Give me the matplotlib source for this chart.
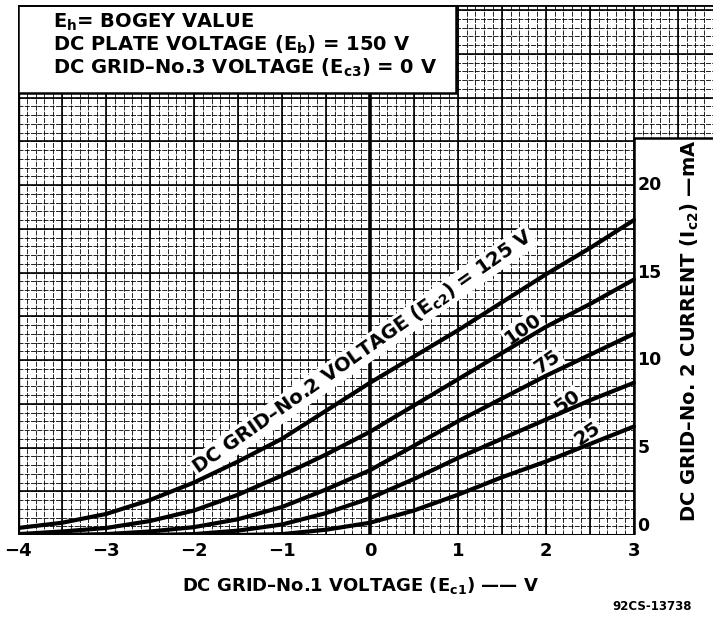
"""Screen-grid current vs grid-No.1 voltage, curves for several Ec2 values."""

import numpy as np
import matplotlib.pyplot as plt
from matplotlib.patches import Rectangle

plt.rcParams["font.family"] = ["DejaVu Sans"]
plt.rcParams["font.weight"] = "bold"
plt.rcParams["mathtext.fontset"] = "custom"
plt.rcParams["mathtext.rm"] = "DejaVu Sans:bold"
plt.rcParams["mathtext.it"] = "DejaVu Sans:bold"
plt.rcParams["mathtext.bf"] = "DejaVu Sans:bold"
plt.rcParams["mathtext.default"] = "rm"

# Ec1 (V) sample points
ec1 = [-4.0, -3.5, -3.0, -2.5, -2.0, -1.5, -1.0, -0.5, 0.0, 0.5, 1.0, 1.5, 2.0, 2.5, 3.0]

# Ic2 (mA) for each Ec2 curve
ic2_125 = [0.4, 0.7, 1.2, 2.0, 3.0, 4.2, 5.5, 7.1, 8.7, 10.2, 11.7, 13.3, 14.9, 16.4, 18.0]
ic2_100 = [0.05, 0.2, 0.4, 0.8, 1.4, 2.3, 3.4, 4.6, 5.9, 7.4, 8.9, 10.4, 11.9, 13.2, 14.6]
ic2_75 = [0.0, 0.0, 0.05, 0.2, 0.45, 0.9, 1.6, 2.6, 3.7, 5.1, 6.5, 7.8, 9.1, 10.3, 11.5]
ic2_50 = [0.0, 0.0, 0.0, 0.0, 0.05, 0.25, 0.6, 1.25, 2.1, 3.2, 4.4, 5.5, 6.6, 7.7, 8.7]
ic2_25 = [0.0, 0.0, 0.0, 0.0, 0.0, 0.0, 0.05, 0.3, 0.7, 1.4, 2.3, 3.3, 4.2, 5.2, 6.2]

x_ticks = [-4, -3, -2, -1, 0, 1, 2, 3]
x_tick_labels = ["\u22124", "\u22123", "\u22122", "\u22121", "0", "1", "2", "3"]
y_ticks = [0, 5, 10, 15, 20]

# curve labels: (text, Ec1, Ic2)
curve_labels = [
    ("100", 1.74, 11.8),
    ("75", 2.02, 9.9),
    ("50", 2.24, 7.6),
    ("25", 2.47, 5.8),
]

XMIN, XMAX = -4.0, 3.9
YMIN, YMAX = 0.0, 30.3
FS = 14

fig = plt.figure(figsize=(7.13, 6.19), dpi=100)
ax = fig.add_axes([18 / 713, 84 / 619, 1 - 18 / 713, (535 - 5) / 619])
ax.set_xlim(XMIN, XMAX)
ax.set_ylim(YMIN, YMAX)

# graph paper
fine_x = np.arange(-4, 3.95, 0.1)
fine_y = np.arange(0, 30.3, 0.5)
ax.vlines(fine_x, YMIN, YMAX, color="black", lw=0.6, linestyle=(0, (6, 1.5)), zorder=1)
ax.hlines(fine_y, XMIN, XMAX, color="black", lw=0.6, linestyle=(0, (6, 1.5)), zorder=1)
ax.vlines(np.arange(-4, 3.95, 0.5), YMIN, YMAX, color="black", lw=1.2, zorder=2)
ax.hlines(np.arange(0, 30.3, 2.5), XMIN, XMAX, color="black", lw=1.2, zorder=2)
ax.axvline(0, color="black", lw=2.6, zorder=2)
ax.axvline(-4, color="black", lw=2.4, zorder=2)
ax.axhline(0, color="black", lw=2.2, zorder=2)

# white boxes for the notes and the y-axis
ax.add_patch(Rectangle((-4, 25.25), 4.98, YMAX - 25.25, facecolor="white",
                       edgecolor="black", lw=1.8, zorder=3))
ax.add_patch(Rectangle((3, -1), 2, 23.7, facecolor="white", edgecolor="black", lw=1.8, zorder=3))
ax.axhline(YMAX, color="black", lw=2.0, zorder=4)

for ys in [ic2_125, ic2_100, ic2_75, ic2_50, ic2_25]:
    ax.plot(ec1, ys, color="black", lw=3.0, solid_capstyle="round", solid_joinstyle="round", zorder=6)

box = dict(facecolor="white", edgecolor="none", pad=1.0)
ax.text(-0.08, 10.45, "DC GRID\u2013No.2 VOLTAGE ($E_{c2}$) = 125 V", rotation=35,
        ha="center", va="center", fontsize=FS, bbox=box, zorder=5, rotation_mode="anchor")
for txt, xv, yv in curve_labels:
    ax.text(xv, yv, txt, rotation=35, ha="center", va="center", fontsize=FS,
            bbox=box, zorder=5, rotation_mode="anchor")

# notes
ax.text(-3.6, 29.3, "$E_{h}$= BOGEY VALUE", fontsize=FS, va="center", ha="left", zorder=5)
ax.text(-3.6, 28.0, "DC PLATE VOLTAGE ($E_{b}$) = 150 V", fontsize=FS, va="center", ha="left", zorder=5)
ax.text(-3.6, 26.7, "DC GRID\u2013No.3 VOLTAGE ($E_{c3}$) = 0 V", fontsize=FS, va="center", ha="left", zorder=5)

# y tick labels inside the right box
for yv in y_ticks:
    ax.text(3.04, yv, str(yv), fontsize=12.5, ha="left",
            va="bottom" if yv == 0 else "center", zorder=4)
ax.text(3.64, 11.7, "DC GRID\u2013No. 2 CURRENT ($I_{c2}$) \u2014mA", rotation=90,
        fontsize=FS, ha="center", va="center", zorder=4)

ax.set_xticks(x_ticks)
ax.set_xticklabels(x_tick_labels, fontsize=13, fontweight="bold")
ax.set_yticks([])
ax.tick_params(axis="x", length=0, pad=5)
for s in ax.spines.values():
    s.set_visible(False)

fig.text(361 / 713, 1 - 585 / 619, "DC GRID\u2013No.1 VOLTAGE ($E_{c1}$) \u2014\u2014 V",
         fontsize=13, ha="center", va="center")
fig.text(652 / 713, 1 - 606 / 619, "92CS-13738", fontsize=8.5, ha="center", va="center")

fig.savefig("out.png", dpi=100)
